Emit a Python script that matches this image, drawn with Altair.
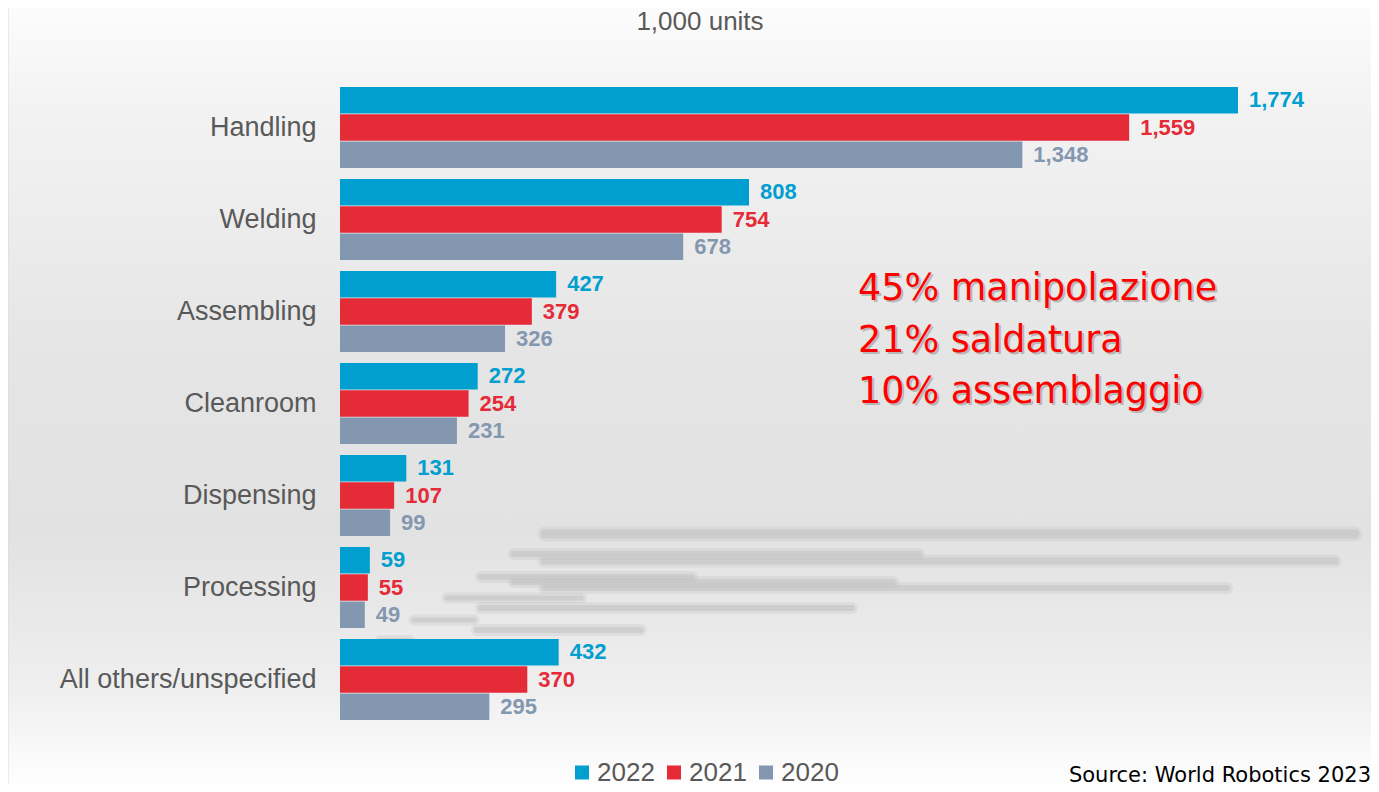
import altair as alt
import pandas as pd

categories = ["Handling", "Welding", "Assembling", "Cleanroom", "Dispensing",
              "Processing", "All others/unspecified"]
years = ["2022", "2021", "2020"]
v2022 = [1774, 808, 427, 272, 131, 59, 432]
v2021 = [1559, 754, 379, 254, 107, 55, 370]
v2020 = [1348, 678, 326, 231, 99, 49, 295]
colors = ["#009fcf", "#e52a38", "#8497b0"]
title_text = "1,000 units"
annotation_lines = ["45% manipolazione", "21% saldatura", "10% assemblaggio"]
source_text = "Source: World Robotics 2023"

rows = []
for yr, vals in zip(years, [v2022, v2021, v2020]):
    for c, v in zip(categories, vals):
        rows.append({"category": c, "year": yr, "value": v})
df = pd.DataFrame(rows)

PLOT_W = 1031
PLOT_H = 644
PAD = {"left": 332, "top": 73.5, "right": 0, "bottom": 58.5}
OX, OY = 340, 81.5  # page position of plot origin
px_per_unit = 898 / 1774
xmax = PLOT_W / px_per_unit

FONT = "Liberation Sans"
color_scale = alt.Scale(domain=years, range=colors)

y_enc = alt.Y("category:N", sort=categories,
              scale=alt.Scale(paddingInner=0.12, paddingOuter=0.06),
              axis=alt.Axis(title=None, ticks=False, domain=False, labelPadding=24,
                            labelFontSize=27, labelColor="#595959", labelFont=FONT,
                            labelLimit=400, zindex=2))
y_off = alt.YOffset("year:N", sort=years, scale=alt.Scale(paddingInner=0.03))
x_enc = alt.X("value:Q", scale=alt.Scale(domain=[0, xmax], nice=False), axis=None)

base = alt.Chart(df)

bars = base.mark_bar().encode(
    x=x_enc, y=y_enc, yOffset=y_off,
    color=alt.Color("year:N", scale=color_scale, sort=years,
                    legend=alt.Legend(title=None, orient="none", direction="horizontal",
                                      legendX=229, legendY=678, symbolType="square",
                                      symbolSize=196, symbolStrokeWidth=0,
                                      labelFontSize=26, labelColor="#595959", labelFont=FONT,
                                      labelOffset=2, columnPadding=6, padding=0, zindex=2)),
)

labels = base.mark_text(align="left", baseline="middle", dx=11, fontSize=22,
                        fontWeight="bold", font=FONT).encode(
    x=x_enc, y=y_enc, yOffset=y_off,
    text=alt.Text("value:Q", format=","),
    color=alt.Color("year:N", scale=color_scale, legend=None),
)

one = pd.DataFrame({"a": [0]})

bg = alt.Chart(one).mark_rect(
    fill=alt.Gradient(gradient="linear", x1=0, x2=0, y1=0, y2=1, stops=[
        alt.GradientStop(color="#fcfcfc", offset=0),
        alt.GradientStop(color="#f3f3f3", offset=0.12),
        alt.GradientStop(color="#e5e5e5", offset=0.45),
        alt.GradientStop(color="#e2e2e2", offset=0.68),
        alt.GradientStop(color="#efefef", offset=0.88),
        alt.GradientStop(color="#fefefe", offset=1.0),
    ])
).encode(x=alt.value(-332), x2=alt.value(PLOT_W), y=alt.value(-73.5), y2=alt.value(PLOT_H + 58.5))

border = alt.Chart(one).mark_rule(color="#d9d9d9", strokeWidth=1).encode(
    x=alt.value(-332), y=alt.value(-73.5), y2=alt.value(PLOT_H + 58.5))

# decorative blurred streaks (background reflection), page coordinates
streak_specs = [
    (545, 1355, 534, 9), (514, 919, 554, 6), (544, 1335, 561, 7),
    (481, 692, 577, 6), (514, 893, 582, 6), (544, 1227, 588, 6),
    (447, 581, 598, 5), (481, 852, 608, 6), (414, 474, 620, 5),
    (477, 641, 630, 6), (380, 410, 640, 4),
]
streaks = []
for xa, xb, yy, w in streak_specs:
    streaks.append(alt.Chart(one).mark_rule(color="#c4c4c4", opacity=0.3, strokeWidth=w + 6,
                                            strokeCap="round").encode(
        x=alt.value(xa - OX), x2=alt.value(xb - OX), y=alt.value(yy - OY)))
    streaks.append(alt.Chart(one).mark_rule(color="#bdbdbd", opacity=0.45, strokeWidth=w,
                                            strokeCap="round").encode(
        x=alt.value(xa - OX), x2=alt.value(xb - OX), y=alt.value(yy - OY)))

title = alt.Chart(pd.DataFrame({"t": [title_text]})).mark_text(
    font=FONT, fontSize=26, color="#595959", align="center", baseline="alphabetic"
).encode(text="t:N", x=alt.value(360), y=alt.value(-51.5))

ann_shadow = alt.Chart(one).mark_text(
    text=annotation_lines, lineHeight=51.5, font="DejaVu Sans",
    fontSize=36.5, color="#9a9a9a", opacity=0.6, align="left", baseline="alphabetic"
).encode(x=alt.value(520), y=alt.value(220.5))

ann = alt.Chart(one).mark_text(
    text=annotation_lines, lineHeight=51.5, font="DejaVu Sans",
    fontSize=36.5, color="#ff0000", align="left", baseline="alphabetic"
).encode(x=alt.value(518), y=alt.value(218.5))

source = alt.Chart(pd.DataFrame({"t": [source_text]})).mark_text(
    font="DejaVu Sans", fontSize=21, color="#000000", align="right", baseline="alphabetic"
).encode(text="t:N", x=alt.value(PLOT_W), y=alt.value(700.5))

chart = alt.layer(bg, border, *streaks, title, bars, labels, ann_shadow, ann, source).properties(
    width=PLOT_W, height=PLOT_H, padding=PAD,
    autosize=alt.AutoSizeParams(type="none"),
).configure_view(stroke=None).configure(background="white")

chart.save("out.html", embed_options={"renderer": "svg", "actions": False})
